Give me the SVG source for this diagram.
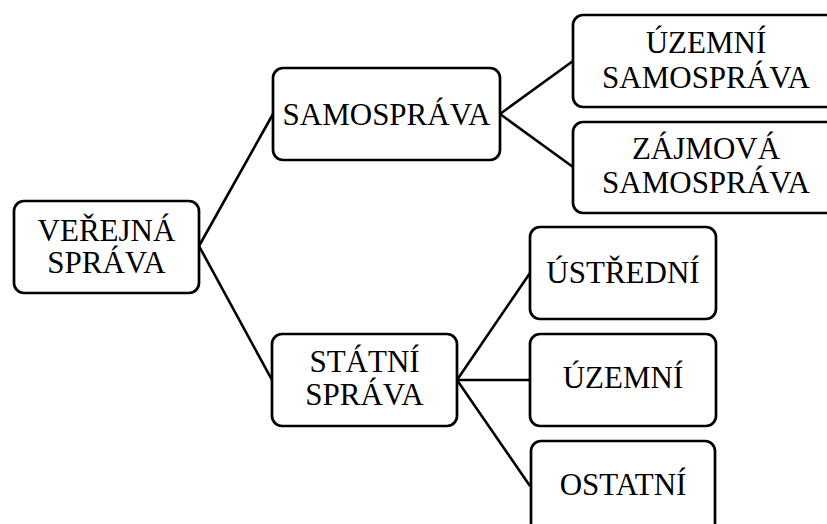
<svg xmlns="http://www.w3.org/2000/svg" width="827" height="524" viewBox="0 0 827 524">
<style>
.box{fill:#fff;stroke:#000;stroke-width:2.7}
.t{font-size:31px;fill:#000;text-anchor:middle}
.c line{stroke:#000;stroke-width:2.6}
</style>
<rect width="827" height="524" fill="#fff"/>
<g class="c" id="connectors">
<line x1="199" y1="246" x2="273" y2="114"/>
<line x1="199" y1="246" x2="272" y2="380"/>
<line x1="500" y1="114" x2="573" y2="61"/>
<line x1="500" y1="114" x2="573" y2="167"/>
<line x1="457" y1="380" x2="530" y2="273"/>
<line x1="457" y1="380" x2="530" y2="380"/>
<line x1="457" y1="380" x2="530" y2="486"/>
</g>
<g font-family="Liberation Serif, serif">
<g id="verejna">
<rect class="box" x="14" y="201" width="185" height="92" rx="10"/>
<text class="t" x="106.5" y="241">VEŘEJNÁ</text>
<text class="t" x="106.5" y="273">SPRÁVA</text>
</g>
<g id="samosprava">
<rect class="box" x="273" y="68" width="227" height="92" rx="10"/>
<text class="t" x="386.5" y="125">SAMOSPRÁVA</text>
</g>
<g id="uzemni-samosprava">
<rect class="box" x="573" y="15" width="268" height="92" rx="10"/>
<text class="t" x="706" y="53">ÚZEMNÍ</text>
<text class="t" x="706" y="88">SAMOSPRÁVA</text>
</g>
<g id="zajmova-samosprava">
<rect class="box" x="573" y="122" width="268" height="91" rx="10"/>
<text class="t" x="706" y="159">ZÁJMOVÁ</text>
<text class="t" x="706" y="193">SAMOSPRÁVA</text>
</g>
<g id="statni-sprava">
<rect class="box" x="272" y="334" width="185" height="92" rx="10"/>
<text class="t" x="364.5" y="372">STÁTNÍ</text>
<text class="t" x="364.5" y="405">SPRÁVA</text>
</g>
<g id="ustredni">
<rect class="box" x="530" y="227" width="186" height="92" rx="10"/>
<text class="t" x="623" y="283">ÚSTŘEDNÍ</text>
</g>
<g id="uzemni">
<rect class="box" x="530" y="334" width="186" height="92" rx="10"/>
<text class="t" x="623" y="388">ÚZEMNÍ</text>
</g>
<g id="ostatni">
<rect class="box" x="531" y="441" width="184" height="92" rx="10"/>
<text class="t" x="623" y="495">OSTATNÍ</text>
</g>
</g>
</svg>
